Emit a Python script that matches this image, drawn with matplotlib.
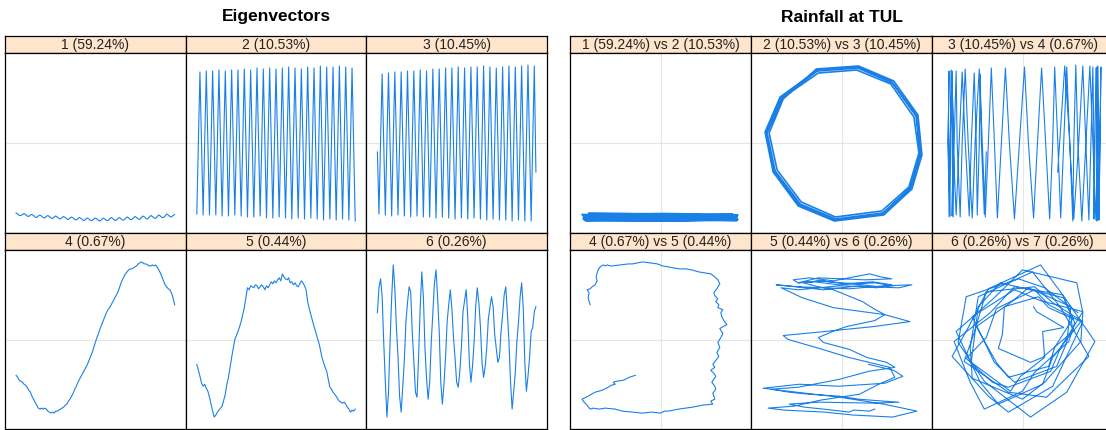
import numpy as np
import matplotlib.pyplot as plt

plt.rcParams['font.family'] = ['Liberation Sans', 'DejaVu Sans']

# eigenvector values (x1000), one list per component, same time index
ev1 = [-70, -71, -72.5, -72.5, -71.5, -70.5, -71.5, -73, -73.5, -72,
       -71.5, -72.5, -74, -74.5, -73, -72, -73, -74.5, -75, -73.5,
       -72.5, -73.5, -75, -75.5, -74, -73, -74, -75.5, -76, -74.5,
       -73.5, -74.5, -76, -76.5, -75, -74, -75, -76.5, -77, -75.5,
       -74.5, -75.5, -77, -77.5, -76, -75, -76, -77.5, -77.5, -76,
       -75, -76, -77.5, -78, -76.5, -75, -76, -77.5, -77.5, -76,
       -74.5, -75.5, -77, -77.5, -76, -74.5, -75.5, -77, -77, -75.5,
       -74, -75, -76.5, -76.5, -75, -73.5, -74.5, -76, -76.5, -74.5,
       -73, -74, -75.5, -76, -74, -72.5, -73.5, -75, -75.5, -73.5,
       -72, -73, -74.5, -74.5, -73, -71, -72, -73.5, -74, -72.5, -71.5]
ev2 = [-71, 1, 71, -2, -72, 2, 72, 0, -72, -1, 72, 3, -72, 1, 73, -2, -73, 2, 72, 0,
       -73, -1, 73, 2, -72, 1, 73, -2, -73, 0, 74, 2, -74, -1, 73, 1, -74, -2, 75, 2,
       -73, 0, 74, -1, -75, 3, 75, 1, -75, -2, 74, 2, -74, 0, 75, -1, -75, 1, 76, -2,
       -76, 2, 75, 0, -75, -1, 74, 3, -76, 1, 76, -2, -75, 2, 75, 0, -76, -1, 77, 1,
       -77, -2, 76, 2, -76, 0, 76, -1, -77, 3, 77, 1, -76, -2, 76, 2, -77, 0, 75, -1, -78]
ev3 = [-9, -71, 2, 69, -1, -72, 1, 70, -2, -73, 2, 71, 0, -72, -1, 71, 3, -73, 1, 72,
       -2, -74, 2, 72, 0, -73, -1, 73, 1, -74, -2, 72, 2, -74, 0, 74, -1, -75, 3, 74,
       1, -74, -2, 75, 2, -75, 0, 75, -1, -76, 1, 76, -2, -75, 2, 75, 0, -76, -1, 76,
       3, -75, 1, 76, -2, -76, 2, 77, 0, -77, -1, 76, 1, -76, -2, 75, 2, -77, 0, 76,
       -1, -77, 3, 77, 1, -78, -2, 76, 2, -77, 0, 77, -1, -78, 1, 78, -2, -78, 2, 77, -29]
ev4 = [-36, -38, -41, -42, -43, -45, -46, -48, -51, -53, -57, -60, -63, -66, -69, -70,
       -69, -70, -69, -70, -72, -73, -74, -73, -74, -72, -72, -71, -70, -69, -68, -66,
       -65, -62, -60, -57, -54, -50, -47, -43, -40, -37, -34, -31, -28, -25, -21, -17,
       -13, -8, -3, 2, 6, 11, 15, 19, 23, 27, 30, 32, 35, 38, 41, 44, 47, 51, 56, 60,
       63, 66, 68, 70, 71, 71, 72, 73, 74, 76, 77, 78, 77, 76, 76, 75, 74, 74, 75, 74,
       75, 73, 70, 67, 63, 59, 55, 53, 51, 50, 47, 42, 35]
ev5 = [-25, -31, -37, -44, -47, -45, -49, -52, -58, -65, -72, -78, -76, -73, -71, -69,
       -67, -61, -55, -45, -38, -28, -18, -9, 0, 4, 8, 13, 18, 25, 32, 42, 52, 50, 54,
       53, 52, 55, 54, 51, 53, 55, 53, 50, 54, 52, 55, 58, 56, 59, 57, 60, 62, 59, 66,
       63, 61, 60, 62, 57, 58, 55, 57, 54, 53, 56, 59, 57, 54, 50, 38, 31, 25, 19, 13,
       8, 2, -3, -10, -18, -23, -28, -32, -40, -48, -50, -53, -55, -57, -60, -62, -63,
       -64, -63, -65, -68, -70, -73, -71, -72, -70]
ev6 = [27, 52, 61, 43, -3, -42, -78, -53, -2, 42,
       75, 51, 12, -17, -57, -73, -47, -21, 18, 37,
       53, 48, 7, -22, -53, -58, -17, 32, 68, 43,
       -8, -39, -60, -43, -2, 27, 57, 70, 42, 8,
       -43, -65, -45, -18, 18, 35, 50, 31, 2, -19,
       -43, -48, -32, -8, 28, 39, 50, 23, -23, -43,
       -27, -3, 33, 52, 37, 13, -23, -38, -27, -8,
       21, 32, 43, 33, 5, -9, -23, -18, 8, 25,
       45, 53, 27, -2, -43, -70, -52, -33, -2, 17,
       42, 57, 33, -23, -52, -37, -18, 8, 12, 28, 33]
ev7 = [55, 22, -4, -56, -64, -38, 8, 44, 72, 42,
       18, -34, -54, -70, -34, -14, 30, 42, 60, 30,
       12, -36, -48, -58, -14, 24, 66, 38, 10, -44,
       -52, -50, 0, 22, 58, 60, 54, 0, -28, -66,
       -42, -24, 20, 30, 58, 26, 12, -26, -36, -56,
       -30, -14, 28, 38, 60, 18, -8, -50, -28, -8,
       34, 44, 48, 6, -12, -46, -26, -14, 26, 32,
       50, 26, 16, -18, -20, -24, 8, 20, 50, 48,
       40, -8, -32, -68, -52, -38, 0, 12, 46, 52,
       41, -22, -44, -51, -12, -2, 22, 20, 41, 14, 11]

# 2 vs 3 traced as repeated 12-gon loops
ring23_x = [-24, 16, 51, 74, 79, 69, 41, -6, -41, -66, -74, -59,
            -23, 15, 49, 72, 77, 67, 40, -6, -40, -64, -72, -58,
            -25, 17, 52, 76, 80, 70, 42, -7, -43, -68, -76, -61,
            -24, 16, 50, 75, 78, 68, 41, -6, -42, -67, -75, -60, -24]
ring23_y = [72, 75, 60, 27, -11, -45, -70, -76, -61, -28, 10, 45,
            70, 73, 59, 26, -10, -44, -68, -74, -59, -27, 10, 44,
            74, 77, 62, 28, -12, -46, -72, -78, -63, -29, 11, 46,
            73, 76, 61, 27, -11, -45, -71, -77, -62, -28, 10, 45, 72]

ev_labels = ['1 (59.24%)', '2 (10.53%)', '3 (10.45%)',
             '4 (0.67%)', '5 (0.44%)', '6 (0.26%)']
pair_labels = ['1 (59.24%) vs 2 (10.53%)', '2 (10.53%) vs 3 (10.45%)',
               '3 (10.45%) vs 4 (0.67%)', '4 (0.67%) vs 5 (0.44%)',
               '5 (0.44%) vs 6 (0.26%)', '6 (0.26%) vs 7 (0.26%)']

W, H = 1106, 430
fig = plt.figure(figsize=(W / 100, H / 100), dpi=100)
blue = '#1a80e8'


def box(x0, y0, x1, y1):
    return [x0 / W, 1 - y1 / H, (x1 - x0) / W, (y1 - y0) / H]


left_cols = [5, 185.7, 366.3, 547]
right_cols = [570, 751, 932, 1113]
rows = [(36, 53, 233), (233, 250, 429)]


def panel(cols, i, label):
    c, r = i % 3, i // 3
    x0, x1 = cols[c], cols[c + 1]
    st, pt, pb = rows[r]
    sa = fig.add_axes(box(x0, st, x1, pt))
    sa.set_facecolor('#ffe5cc')
    sa.set_xticks([])
    sa.set_yticks([])
    for s in sa.spines.values():
        s.set_linewidth(0.9)
    sa.text(0.5, 0.45, label, ha='center', va='center', fontsize=10,
            color='#222222', transform=sa.transAxes)
    ax = fig.add_axes(box(x0, pt, x1, pb))
    ax.set_xticks([])
    ax.set_yticks([])
    for s in ax.spines.values():
        s.set_linewidth(0.9)
    ax.set_ylim(-90, 90)
    return ax


evs = [ev1, ev2, ev3, ev4, ev5, ev6]
for i, ev in enumerate(evs):
    ax = panel(left_cols, i, ev_labels[i])
    ax.axhline(0, color='#e6e6e6', lw=0.8, zorder=0)
    ax.plot(np.arange(len(ev)), ev, color=blue, lw=0.8)
    ax.set_xlim(-7, 107)

# paired plots: first component on y, second on x
pairs = [(ev1, ev2), None, (ev3, ev4), (ev4, ev5), (ev5, ev6), (ev6, ev7)]
for i, p in enumerate(pairs):
    ax = panel(right_cols, i, pair_labels[i])
    ax.axhline(0, color='#e6e6e6', lw=0.8, zorder=0)
    ax.axvline(0, color='#e6e6e6', lw=0.8, zorder=0)
    if p is None:
        ax.plot(ring23_x, ring23_y, color=blue, lw=1.2)
    else:
        ax.plot(p[1], p[0], color=blue, lw=1.2 if i == 0 else 0.8)
    ax.set_xlim(-90, 90)

fig.text(276 / W, 1 - 17 / H, 'Eigenvectors', ha='center', va='center',
         fontsize=12.5, fontweight='bold')
fig.text(841.5 / W, 1 - 17 / H, 'Rainfall at TUL', ha='center', va='center',
         fontsize=12.5, fontweight='bold')

fig.savefig('out.png', dpi=100)
